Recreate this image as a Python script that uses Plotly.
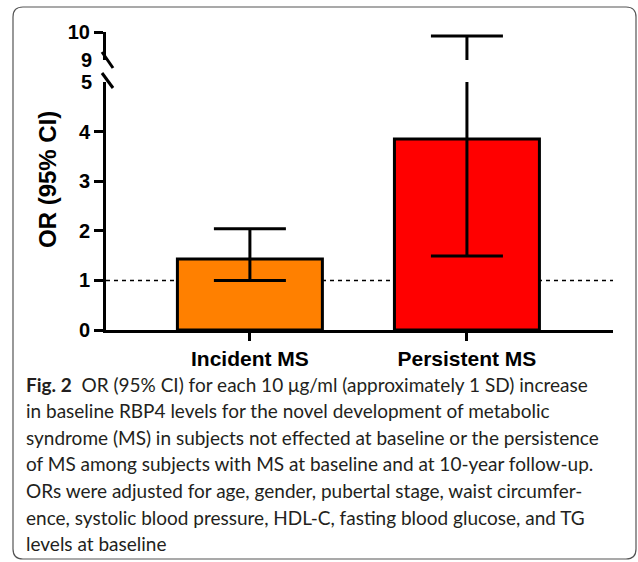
import plotly.graph_objects as go

W, H = 638, 562

# ---- data ----
categories = ["Incident MS", "Persistent MS"]
or_values = [1.43, 3.85]
ci_lower = [1.00, 1.49]
ci_upper = [2.04, 9.86]
bar_colors = ["#FF8000", "#FF0000"]
lower_ticks = [0, 1, 2, 3, 4]
lower_break_tick = [5]
upper_ticks = [10]
upper_break_tick = [9]
reference_or = 1.0

caption_lines = [
    "<b>Fig. 2</b>  OR (95% CI) for each 10 μg/ml (approximately 1 SD) increase",
    "in baseline RBP4 levels for the novel development of metabolic",
    "syndrome (MS) in subjects not effected at baseline or the persistence",
    "of MS among subjects with MS at baseline and at 10-year follow-up.",
    "ORs were adjusted for age, gender, pubertal stage, waist circumfer-",
    "ence, systolic blood pressure, HDL-C, fasting blood glucose, and TG",
    "levels at baseline",
]


def px(x):
    return x / W


def py(y):
    return (H - y) / H


err_plus = [u - v for u, v in zip(ci_upper, or_values)]
err_minus = [v - l for v, l in zip(or_values, ci_lower)]

ARIAL = "Arial, Liberation Sans, sans-serif"
tickfont = dict(family=ARIAL, size=20, color="black", weight="bold")

fig = go.Figure()
for yax in ["y", "y2"]:
    fig.add_trace(go.Bar(
        x=categories, y=or_values, yaxis=yax, xaxis="x",
        width=0.668,
        marker=dict(color=bar_colors, line=dict(color="black", width=3)),
        error_y=dict(type="data", symmetric=False, array=err_plus, arrayminus=err_minus,
                     color="black", thickness=3, width=36),
        showlegend=False, hoverinfo="skip",
    ))
# empty traces so the label-only overlay axes are drawn
for yax in ["y3", "y4"]:
    fig.add_trace(go.Scatter(x=[], y=[], yaxis=yax, xaxis="x", mode="markers",
                             showlegend=False, hoverinfo="skip"))

xdom = [px(106), px(613)]
common_y = dict(showgrid=False, zeroline=False, tickmode="array", automargin=False,
                ticks="outside", ticklen=9, tickwidth=3, tickfont=tickfont)
fig.update_layout(
    width=W, height=H,
    margin=dict(l=0, r=0, t=0, b=0, pad=0),
    paper_bgcolor="white", plot_bgcolor="white",
    barmode="overlay",
    showlegend=False,
    xaxis=dict(
        domain=xdom, anchor="y", type="category", categoryorder="array",
        categoryarray=categories, range=[-0.663, 1.673], automargin=False,
        showline=True, linecolor="black", linewidth=3,
        ticks="outside", ticklen=8, tickwidth=3, tickcolor="black",
        tickfont=dict(family=ARIAL, size=21, color="black", weight="bold"),
        showgrid=False, zeroline=False,
    ),
    yaxis=dict(
        domain=[py(330), py(82)], range=[0, 5], anchor="x",
        tickvals=lower_ticks, showline=True, linecolor="black", linewidth=3,
        tickcolor="black", **common_y,
    ),
    yaxis2=dict(
        domain=[py(60), py(32)], range=[9, 10], anchor="x",
        tickvals=upper_ticks, showline=True, linecolor="black", linewidth=3,
        tickcolor="black", **common_y,
    ),
    yaxis3=dict(
        overlaying="y", range=[0, 5], anchor="x", tickvals=lower_break_tick,
        showline=False, tickcolor="rgba(0,0,0,0)", **common_y,
    ),
    yaxis4=dict(
        overlaying="y2", range=[9, 10], anchor="x", tickvals=upper_break_tick,
        showline=False, tickcolor="rgba(0,0,0,0)", **common_y,
    ),
)

# dashed reference line at OR = 1
fig.add_shape(type="line", xref="x domain", yref="y", x0=0, x1=1,
              y0=reference_or, y1=reference_or, layer="below",
              line=dict(color="black", width=1.5, dash="4px,4px"))

# axis break marks
for (x0, y0, x1, y1) in [(102, 73, 113, 88), (102, 52, 113, 68)]:
    fig.add_shape(type="line", xref="paper", yref="paper",
                  x0=px(x0), y0=py(y0), x1=px(x1), y1=py(y1),
                  line=dict(color="black", width=3))

# rounded border
L, R, T, B, r = 13, 636, 7, 559, 10
path = (f"M {px(L)},{py(T + r)} Q {px(L)},{py(T)} {px(L + r)},{py(T)} "
        f"L {px(R - r)},{py(T)} Q {px(R)},{py(T)} {px(R)},{py(T + r)} "
        f"L {px(R)},{py(B - r)} Q {px(R)},{py(B)} {px(R - r)},{py(B)} "
        f"L {px(L + r)},{py(B)} Q {px(L)},{py(B)} {px(L)},{py(B - r)} Z")
fig.add_shape(type="path", xref="paper", yref="paper", path=path,
              line=dict(color="#555555", width=1.2), layer="below")

# y-axis title
fig.add_annotation(text="<b>OR (95% CI)</b>", xref="paper", yref="paper",
                   x=px(48), y=py(180), textangle=-90, showarrow=False,
                   xanchor="center", yanchor="middle",
                   font=dict(family=ARIAL, size=24, color="black"))

# caption
for i, line in enumerate(caption_lines):
    fig.add_annotation(text=line, xref="paper", yref="paper",
                       x=px(24), y=py(384 + i * 26.6), xanchor="left", yanchor="middle",
                       showarrow=False,
                       font=dict(family="Lato, Open Sans, sans-serif", size=19, color="#231f20"))

fig.write_html(
    "out.html",
    config={"displayModeBar": False},
    post_script=("document.body.style.margin='0';document.body.style.overflow='hidden';"
                 "var d=document.getElementById('{plot_id}');"
                 "d.style.position='fixed';d.style.left='0px';d.style.top='0px';"),
)
